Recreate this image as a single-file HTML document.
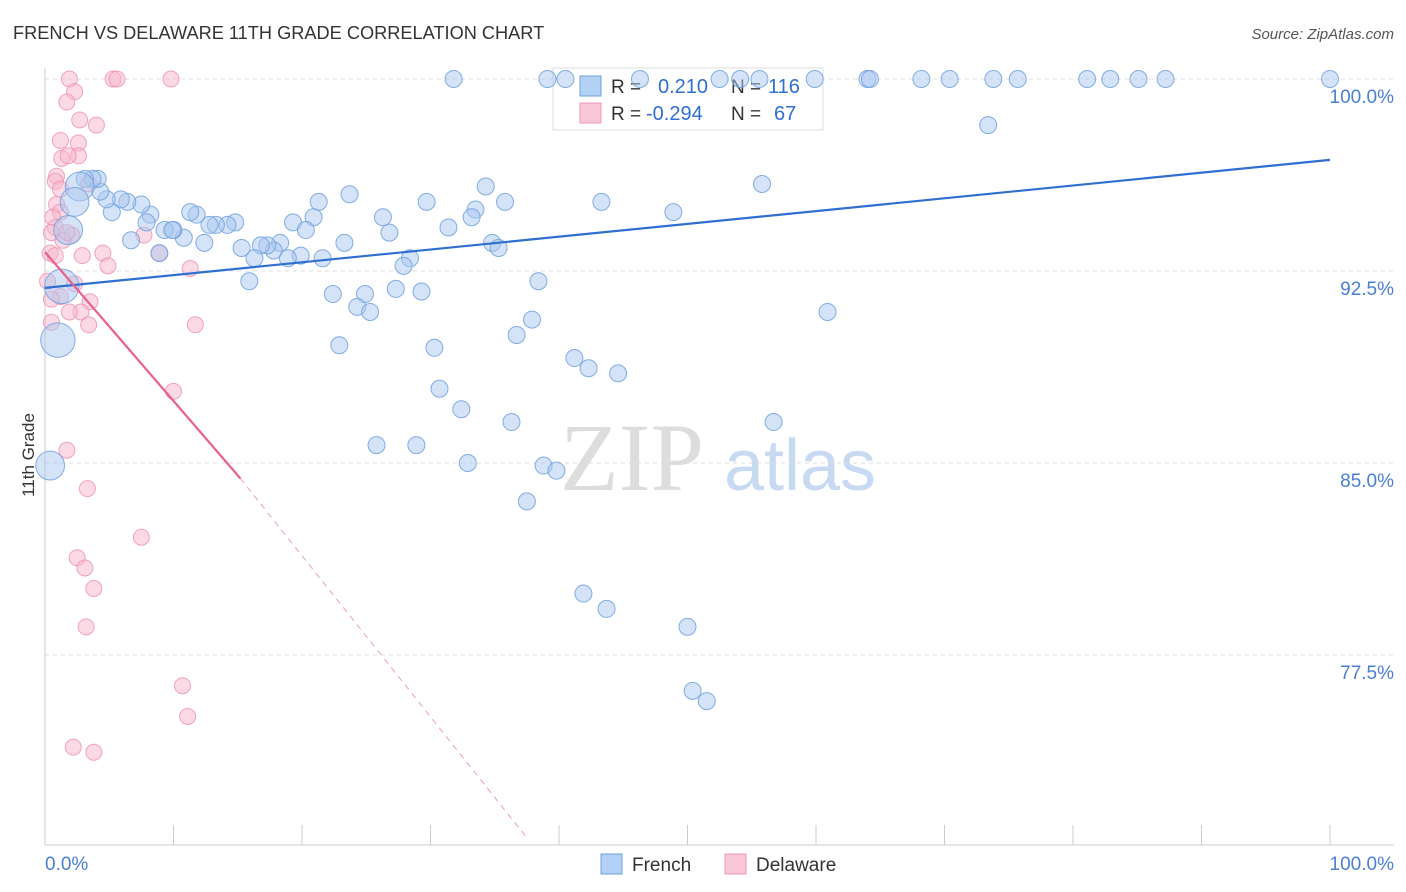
<!DOCTYPE html>
<html><head><meta charset="utf-8"><style>
body{margin:0;background:#fff;font-family:"Liberation Sans",sans-serif}
svg{display:block}
</style></head><body>
<svg id="chart" width="1406" height="892">
<text x="13" y="39" font-size="18.2" fill="#333">FRENCH VS DELAWARE 11TH GRADE CORRELATION CHART</text>
<text x="1394" y="39" font-size="15" fill="#555" font-style="italic" text-anchor="end">Source: ZipAtlas.com</text>
<text transform="translate(34,455) rotate(-90)" font-size="17" fill="#333" text-anchor="middle">11th Grade</text>
<g><text x="632" y="490" font-size="96" font-family="Liberation Serif,serif" fill="#ddd" text-anchor="middle">ZIP</text><text x="800" y="490" font-size="72" fill="#c8daf2" text-anchor="middle">atlas</text></g>
<g id="grid"></g>
<g>
<rect x="553" y="68" width="270" height="62" fill="#fff" fill-opacity="0.85" stroke="#ddd"/>
<rect x="580" y="76" width="21" height="20" fill="#b3d0f5" stroke="#6fa0e0"/>
<rect x="580" y="103" width="21" height="20" fill="#f9c6d6" stroke="#ee9ab5"/>
<text x="611" y="93" font-size="19" fill="#333">R = </text><text x="658" y="93" font-size="20" fill="#2f6fd0">0.210</text>
<text x="731" y="93" font-size="19" fill="#333">N = </text><text x="768" y="93" font-size="20" fill="#2f6fd0">116</text>
<text x="611" y="120" font-size="19" fill="#333">R = </text><text x="646" y="120" font-size="20" fill="#2f6fd0">-0.294</text>
<text x="731" y="120" font-size="19" fill="#333">N = </text><text x="774" y="120" font-size="20" fill="#2f6fd0">67</text>
</g>
<g id="pts"></g><g id="lines"></g>
<g>
<rect x="601" y="854" width="21" height="20" fill="#b3d0f5" stroke="#6fa0e0"/>
<text x="632" y="871" font-size="19" fill="#333">French</text>
<rect x="725" y="854" width="21" height="20" fill="#f9c6d6" stroke="#ee9ab5"/>
<text x="756" y="871" font-size="19" fill="#333">Delaware</text>
</g>
</svg>
<script>
const yTicks=[100,92.5,85,77.5];
const yTickLabels=["100.0%","92.5%","85.0%","77.5%"];
const frenchX=[31.8,39.1,40.5,46.3,52.5,54.1,55.6,59.9,64.0,64.2,68.2,70.4,73.8,75.7,81.1,82.9,85.1,87.2,100,73.4,55.8,48.9,43.3,34.3,35.8,33.5,33.2,29.7,23.7,21.3,20.9,19.3,20.3,26.3,26.8,31.4,34.8,35.3,23.3,28.4,27.9,21.6,19.9,18.9,18.3,17.8,17.3,16.8,16.3,15.3,14.8,14.2,13.3,12.8,11.8,11.3,12.4,10.8,10.0,9.3,9.9,8.9,8.2,7.9,7.5,6.7,6.4,5.9,5.2,4.8,4.3,4.1,3.7,3.1,2.7,2.3,1.8,1.3,1.0,0.4,15.9,22.4,24.9,24.3,25.3,27.3,29.3,38.4,37.9,36.7,22.9,30.3,41.2,42.3,44.6,30.7,32.4,36.3,56.7,60.9,25.8,28.9,32.9,38.8,39.8,37.5,41.9,43.7,50.0,50.4,51.5];
const frenchY=[100,100,100,100,100,100,100,100,100,100,100,100,100,100,100,100,100,100,100,98.2,95.9,94.8,95.2,95.8,95.2,94.9,94.6,95.2,95.5,95.2,94.6,94.4,94.1,94.6,94.0,94.2,93.6,93.4,93.6,93.0,92.7,93.0,93.1,93.0,93.6,93.3,93.5,93.5,93.0,93.4,94.4,94.3,94.3,94.3,94.7,94.8,93.6,93.8,94.1,94.1,94.1,93.2,94.7,94.4,95.1,93.7,95.2,95.3,94.8,95.3,95.6,96.1,96.1,96.1,95.8,95.2,94.1,91.9,89.8,84.9,92.1,91.6,91.6,91.1,90.9,91.8,91.7,92.1,90.6,90.0,89.6,89.5,89.1,88.7,88.5,87.9,87.1,86.6,86.6,90.9,85.7,85.7,85.0,84.9,84.7,83.5,79.9,79.3,78.6,76.1,75.7];
const frenchWeight={74:3,75:3,76:3,77:4,78:4,79:3};
const delawareX=[1.9,5.3,5.6,9.8,2.3,1.7,2.7,4.0,1.2,2.6,1.3,2.6,1.8,0.9,0.8,1.2,3.4,0.9,1.2,0.6,0.8,0.5,2.1,1.4,1.7,0.4,0.8,4.5,2.9,4.9,8.9,7.7,11.3,2.3,1.2,3.5,2.8,1.9,0.5,3.4,11.7,10.0,1.7,3.3,7.5,2.5,3.1,3.8,3.2,10.7,11.1,2.2,3.8,0.2,0.5];
const delawareY=[100,100,100,100,99.5,99.1,98.4,98.2,97.6,97.5,96.9,97.0,97.0,96.2,96.0,95.7,95.9,95.1,94.8,94.6,94.2,94.0,93.9,93.7,94.0,93.2,93.1,93.2,93.1,92.7,93.2,93.9,92.6,92.0,91.5,91.3,90.9,90.9,90.5,90.4,90.4,87.8,85.5,84.0,82.1,81.3,80.9,80.1,78.6,76.3,75.1,73.9,73.7,92.1,91.4];
const frenchTrend=[[0,91.84],[100,96.84]];
const delawareTrendSolid=[[0,93.24],[15.2,84.4]];
const delawareTrendDash=[[15.2,84.4],[37.6,70.3]];
const NS="http://www.w3.org/2000/svg";
const X=v=>45+v*12.85, Y=v=>79+(100-v)*25.6;
function mk(tag,attrs,parent){const e=document.createElementNS(NS,tag);for(const k in attrs)e.setAttribute(k,attrs[k]);parent.appendChild(e);return e;}
const grid=document.getElementById('grid');
yTicks.forEach((t,i)=>{
 const l=mk('line',{x1:45,x2:1394,y1:Y(t),y2:Y(t),stroke:'#ddd','stroke-dasharray':'4 4'},grid);
 
 
 const tx=mk('text',{x:1394,y:Y(t)+24,'font-size':19,fill:'#4a7fd4','text-anchor':'end'},grid);
 tx.textContent=yTickLabels[i];
 
 
});
const ax=mk('line',{x1:45,x2:1394,y1:845,y2:845,stroke:'#ccc'},grid);


const ay=mk('line',{x1:45,x2:45,y1:68,y2:845,stroke:'#ccc'},grid);


for(let i=0;i<=10;i++){const tk=mk('line',{x1:X(i*10),x2:X(i*10),y1:825,y2:845,stroke:'#ccc'},grid);
 
 }
[[0,'0.0%','start',45],[100,'100.0%','end',1394]].forEach(d=>{const t=mk('text',{x:d[3],y:870,'font-size':19,fill:'#4a7fd4','text-anchor':d[2]},grid);t.textContent=d[1];
 
 });
const pts=document.getElementById('pts');
delawareX.forEach((x,i)=>{const c=mk('circle',{cx:X(x),cy:Y(delawareY[i]),r:8,fill:'#f7b6cb','fill-opacity':0.5,stroke:'#ee8fb0','stroke-opacity':0.8},pts);
 
 });
frenchX.forEach((x,i)=>{const w=frenchWeight[i]||1;const c=mk('circle',{cx:X(x),cy:Y(frenchY[i]),r:w>1?6+w*2.8:8.5,fill:'#a9c8f0','fill-opacity':0.5,stroke:'#6fa0e0','stroke-opacity':0.85},pts);
 
 });
const lines=document.getElementById('lines');
const l1=mk('line',{x1:X(frenchTrend[0][0]),y1:Y(frenchTrend[0][1]),x2:X(frenchTrend[1][0]),y2:Y(frenchTrend[1][1]),stroke:'#2f6fd0','stroke-width':2.2},lines);


const l2=mk('line',{x1:X(delawareTrendSolid[0][0]),y1:Y(delawareTrendSolid[0][1]),x2:X(delawareTrendSolid[1][0]),y2:Y(delawareTrendSolid[1][1]),stroke:'#e8608c','stroke-width':2.2},lines);


const l3=mk('line',{x1:X(delawareTrendDash[0][0]),y1:Y(delawareTrendDash[0][1]),x2:X(delawareTrendDash[1][0]),y2:Y(delawareTrendDash[1][1]),stroke:'#e8a0b8','stroke-width':1,'stroke-dasharray':'6 5'},lines);


</script>
</body></html>
